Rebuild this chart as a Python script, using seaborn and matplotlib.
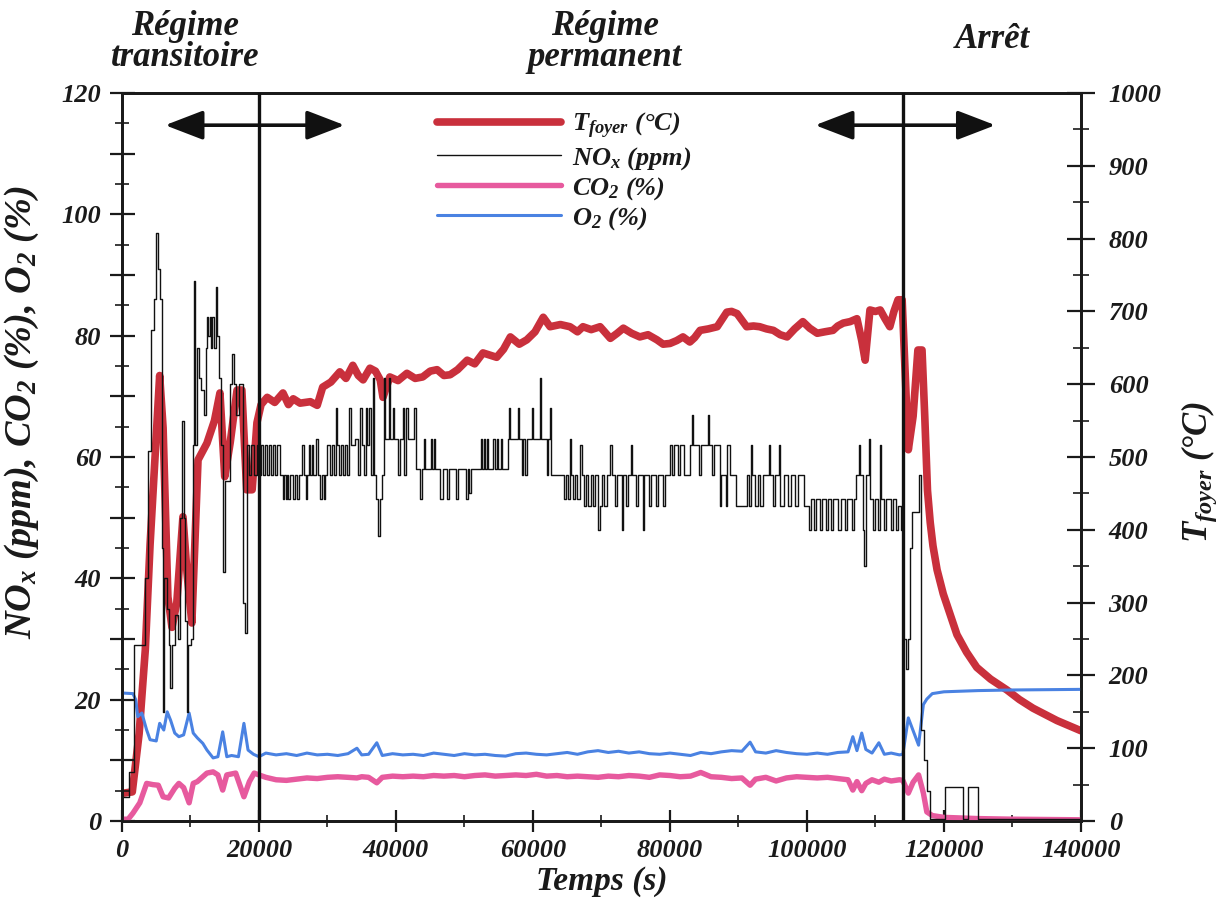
import matplotlib
matplotlib.use("Agg")
import matplotlib.pyplot as plt
import seaborn as sns
import pandas as pd
from matplotlib.ticker import MultipleLocator, FuncFormatter

# ---------------- data ----------------
# Furnace temperature (right axis, °C)
temp_t = [0, 1500, 2500, 3400, 4100, 5000, 5500, 6000, 6700, 7300, 8000, 8900, 9500, 10200,
          11100, 12400, 13500, 14300, 15000, 15800, 16800, 17500, 18200, 19000, 19700, 20300,
          21200, 22300, 23500, 24300, 25000, 26000, 27500, 28500, 29300, 30500, 31800, 32700,
          33700, 34500, 35200, 36200, 37000, 37700, 38100, 39100, 40300, 41600, 42800, 43900,
          45000, 46000, 47000, 47900, 49000, 50400, 51500, 52700, 53700, 54700, 55700, 56700,
          58000, 59100, 60300, 61500, 62500, 64000, 65400, 66500, 67300, 68500, 69800, 71300,
          72300, 73200, 74400, 75600, 76800, 78100, 79000, 80000, 81000, 81900, 82900, 83600,
          84400, 85600, 86900, 88300, 89000, 89800, 90500, 91200, 92200, 93100, 94100, 95100,
          96100, 97100, 98200, 99400, 100400, 101500, 102600, 103800, 104500, 105300, 106300,
          107300, 108000, 108500, 109200, 110000, 110700, 111400, 112100, 112700, 113300,
          113900, 114800, 115500, 116200, 116800, 117200, 117600, 118000, 118400, 119000,
          119900, 121000, 121900, 123300, 124800, 126800, 129200, 131000, 133000, 136500, 140000]
temp_v = [38, 40, 120, 235, 380, 530, 612, 540, 308, 266, 300, 418, 340, 272, 496, 519, 550,
          588, 473, 520, 592, 592, 455, 455, 547, 572, 582, 575, 588, 572, 580, 574, 576, 571,
          596, 603, 617, 608, 626, 612, 606, 622, 618, 606, 582, 610, 605, 615, 608, 610, 618,
          620, 612, 613, 620, 633, 628, 643, 640, 637, 648, 665, 655, 661, 672, 692, 679, 682,
          679, 672, 679, 675, 679, 663, 670, 677, 670, 665, 668, 661, 655, 656, 660, 665, 658,
          664, 674, 676, 679, 699, 700, 697, 688, 679, 680, 679, 676, 674, 668, 665, 676, 686,
          677, 670, 672, 674, 680, 684, 686, 690, 660, 633, 702, 700, 702, 690, 679, 700, 716,
          716, 510, 556, 647, 647, 556, 454, 410, 378, 345, 312, 281, 256, 232, 211, 195, 180,
          167, 155, 138, 124]

# NOx (ppm) - stepped signal, in three segments
nox_t_start = [0, 1000, 1700, 3300, 3800, 4300, 4700, 5000, 5200, 5500, 5800, 6000, 6200, 6500,
               6800, 7000, 7300, 7700, 8200, 8500, 8800, 9000, 9200, 9500, 9700, 10100, 10300,
               10500, 10700, 11000, 11300, 11600, 11900, 12200, 12400, 12600, 12800, 13000,
               13200, 13500, 13700, 13900, 14200, 14500, 14800, 15100, 15700, 16000, 16300,
               16700, 17100, 17600, 17900, 18300, 18600, 18900, 19200]
nox_v_start = [4, 8, 29, 40, 61, 81, 86, 97, 91, 86, 45, 18, 40, 35, 29, 22, 29, 34, 30, 50, 66,
               50, 33, 18, 29, 30, 62, 89, 62, 78, 73, 71, 67, 78, 83, 80, 83, 78, 83, 78, 88, 80,
               73, 62, 41, 56, 72, 77, 72, 67, 72, 36, 31, 62, 57, 62, 57]

nox_t_run = [19700, 20000, 20300, 20600, 20900, 21200, 21500, 21700, 22000, 22300, 22700, 23000,
             23500, 23700, 23900, 24100, 24300, 24600, 25000, 25300, 25600, 25800,
             26300, 26500, 26800, 27000, 27300, 27500, 27700, 27900, 28300, 28600, 28900, 29200,
             29500, 29700, 30000, 30300, 30600, 30900, 31200, 31400, 31700, 32000, 32300, 32600,
             32900, 33200, 33400, 34000, 34500, 34800, 35000, 35300, 35600, 35800, 36100, 36300,
             36600, 36800, 37100, 37400, 37600, 37900, 38200, 38400, 39000, 39200, 39500, 39700,
             40300, 40600, 41000, 41200, 41500, 41700, 42300, 42700, 42900, 43500, 43800, 44100,
             44300, 45100, 45300, 45500, 45700, 46500, 46800, 47500, 47800, 48700, 49000, 50200,
             50500, 50700, 51000, 52400, 52600, 52800, 53000, 53300, 53500, 54200, 54400, 54700,
             54900, 55300, 55500, 56300, 56500, 56700, 57800, 58000, 58400, 58600, 58900, 59100,
             59800, 60000, 61000, 61200, 62000, 62200, 62500, 62700, 64500, 64800, 65100, 65400,
             65600, 65900, 66200, 66500, 66900, 67100, 67400, 67700, 68000, 68400, 68700, 69100,
             69500, 69800, 70100, 70400, 70800, 71300, 71500, 72000, 72300, 73000, 73200, 73600,
             73900, 74300, 74500, 75000, 75300, 76000, 76200, 77000, 77300, 78000, 78300, 79000,
             79300, 80000, 80300, 80600, 81200, 81500, 82000, 82900, 83200, 83400, 84200, 84500,
             85500, 85700, 86200, 86500, 87300, 87500, 88200, 88400, 88800, 89700, 91200, 91500,
             91800, 92000, 92400, 92800, 93200, 93600, 94400, 94600, 95000, 95300, 95900, 96100,
             96600, 97200, 97600, 98300, 98700, 99500, 100300, 100600, 101000, 101300, 101900,
             102200, 102800, 103100, 103500, 103800, 104600, 104900, 105500, 105800, 106600,
             106900, 107200, 107600, 107800, 108200, 108400, 108600, 109000, 109200, 109600,
             109900, 110400, 110600, 110800, 111300, 111600, 112200, 112500, 113000, 113300,
             113700]
nox_v_run = [62, 57, 62, 57, 62, 57, 62, 57, 62, 57, 62, 57,
             53, 57, 53, 57, 53, 57, 53, 57, 53, 57,
             62, 57, 53, 57, 62, 57, 62, 57, 63, 57, 53, 57,
             53, 57, 62, 57, 62, 57, 68, 62, 57, 62, 57, 62,
             57, 68, 62, 63, 57, 68, 62, 57, 68, 62, 68, 57,
             73, 57, 53, 47, 53, 57, 73, 63, 73, 63, 68, 63,
             57, 63, 68, 57, 68, 63, 63, 68, 58, 53, 58, 63,
             58, 63, 58, 63, 58, 53, 58, 53, 58, 53, 58, 53,
             58, 54, 58, 63, 58, 63, 58, 63, 58, 63, 58, 63,
             58, 63, 58, 63, 68, 63, 68, 63, 57, 63, 57, 63,
             68, 63, 73, 63, 57, 63, 68, 57, 53, 57, 53, 63,
             57, 53, 57, 53, 62, 57, 52, 57, 52, 57, 52, 57,
             48, 52, 57, 52, 57, 62, 57, 52, 57, 48, 57, 52,
             57, 62, 57, 52, 57, 48, 57, 52, 57, 52, 57, 52,
             57, 62, 57, 62, 57, 62, 57, 62, 67, 62, 57, 62,
             67, 62, 57, 62, 52, 57, 52, 62, 57, 52, 57, 52,
             62, 57, 52, 57, 52, 57, 62, 57, 52, 57, 62, 52,
             57, 52, 57, 52, 57, 52, 48, 53, 48, 53, 48,
             53, 48, 53, 48, 53, 48, 53, 48, 53, 48,
             53, 57, 62, 57, 48, 42, 57, 63, 53, 48,
             53, 48, 62, 53, 48, 53, 48, 53, 48, 52,
             48]

nox_t_stop = [114000, 114400, 114700, 115000, 115300, 116400, 116700, 117100, 117500, 117900,
              120200, 122800, 123500, 125000, 140000]
nox_v_stop = [30, 25, 30, 45, 51, 57, 15, 10, 5, 0.3, 5.6, 0.3, 5.6, 0.3, 0.3]

# O2 (%)
o2_t = [0, 1600, 2000, 2300, 2900, 3600, 4100, 5000, 5500, 6100, 6600, 7100, 7700, 8300, 9000,
        9800, 10400, 11000, 11800, 12400, 13300, 14000, 14700, 15300, 16000, 17000, 17800,
        18400, 19200, 20000, 21000, 22500, 24000, 25500, 27000, 28500, 30000, 31500, 33000,
        34300, 35000, 36000, 37200, 38000, 39500, 41000, 42500, 44000, 45500, 47000, 48500,
        50000, 51500, 53000, 54500, 56000, 57500, 59000, 60500, 62000, 63500, 65000, 66500,
        68000, 69500, 71000, 72500, 74000, 75500, 77000, 78500, 80000, 81500, 83000, 84500,
        86000, 87500, 89000, 90500, 91700, 92500, 94000, 95500, 97000, 98500, 100000, 101500,
        103000, 104500, 106000, 106700, 107300, 108000, 108600, 109500, 110500, 111300, 112300,
        113500, 114000, 114800, 115500, 116300, 117000, 117500, 118300, 120000, 125000, 130000,
        140000]
o2_v = [21.1, 21.0, 20.0, 17.2, 17.8, 15.0, 13.4, 13.2, 16.1, 15.0, 18.0, 16.6, 14.5, 13.9,
        14.2, 17.8, 14.5, 13.7, 12.8, 11.7, 10.4, 10.6, 14.7, 10.6, 10.8, 10.6, 16.1, 11.7, 11.0,
        10.6, 11.2, 10.9, 11.1, 10.8, 11.2, 10.9, 11.0, 10.8, 11.1, 12.0, 10.9, 11.0, 12.9, 10.8,
        11.1, 10.9, 11.0, 10.8, 11.2, 11.0, 10.8, 11.1, 10.9, 11.0, 10.8, 10.7, 11.1, 11.2, 11.0,
        10.9, 11.1, 11.3, 11.0, 11.4, 11.6, 11.3, 11.5, 11.2, 11.4, 11.1, 11.0, 11.2, 11.0, 10.8,
        11.3, 11.1, 11.4, 11.6, 11.5, 13.0, 11.4, 11.2, 11.6, 11.3, 11.1, 11.0, 11.2, 11.0, 11.3,
        11.4, 13.9, 11.6, 14.5, 11.8, 11.2, 12.9, 11.0, 11.2, 10.9, 11.0, 17.0, 14.9, 12.5, 19.2,
        20.1, 21.0, 21.3, 21.5, 21.6, 21.7]

# CO2 (%)
co2_t = [0, 900, 1600, 2600, 3600, 4500, 5300, 6000, 6800, 7700, 8300, 9000, 9800, 10400, 11000,
         12400, 13300, 14000, 14700, 15300, 16600, 17800, 18600, 19300, 20000, 21000, 22500,
         24000, 25500, 27000, 28500, 30000, 31500, 33000, 34300, 35000, 36000, 37200, 38000,
         39500, 41000, 42500, 44000, 45500, 47000, 48500, 50000, 51500, 53000, 54500, 56000,
         57500, 59000, 60500, 62000, 63500, 65000, 66500, 68000, 69500, 71000, 72500, 74000,
         75500, 77000, 78500, 80000, 81500, 83000, 84500, 86000, 87500, 89000, 90500, 91700,
         92500, 94000, 95500, 97000, 98500, 100000, 101500, 103000, 104500, 106000, 106700,
         107300, 108000, 108600, 109500, 110500, 111300, 112300, 113500, 114000, 114800, 115500,
         116300, 117000, 117500, 118300, 120000, 125000, 130000, 140000]
co2_v = [0.3, 0.3, 1.3, 3.0, 6.2, 6.0, 5.9, 4.0, 3.8, 5.4, 6.2, 5.5, 3.0, 6.2, 6.5, 7.9, 8.1,
         7.6, 5.1, 7.6, 7.9, 4.0, 6.5, 7.9, 7.6, 7.2, 6.8, 6.7, 6.9, 7.1, 7.0, 7.2, 7.3, 7.2, 7.1,
         7.3, 7.2, 6.3, 7.2, 7.4, 7.3, 7.4, 7.3, 7.5, 7.4, 7.5, 7.3, 7.5, 7.6, 7.4, 7.5, 7.6, 7.5,
         7.7, 7.4, 7.5, 7.3, 7.4, 7.3, 7.2, 7.4, 7.3, 7.5, 7.4, 7.2, 7.6, 7.5, 7.3, 7.4, 8.0, 7.3,
         7.2, 7.0, 7.1, 5.9, 6.9, 7.2, 6.6, 7.1, 7.3, 7.2, 7.1, 7.2, 7.0, 6.8, 5.1, 6.5, 5.0, 6.2,
         6.8, 6.4, 6.9, 6.6, 6.8, 6.7, 4.6, 6.4, 7.6, 4.6, 1.5, 0.9, 0.6, 0.4, 0.3, 0.2]

phase_bounds = [20000, 114000]
phase_names = ["Régime\ntransitoire", "Régime\npermanent", "Arrêt"]
arrow_spans = [(6300, 32500), (101200, 127500)]

# ---------------- styling ----------------
sns.set_style("ticks")
plt.rcParams.update({
    "font.family": ["Liberation Serif", "DejaVu Serif"],
    "font.weight": "bold",
    "font.style": "italic",
    "axes.labelweight": "bold",
    "mathtext.fontset": "custom",
    "mathtext.it": "Liberation Serif:italic:bold",
    "mathtext.rm": "Liberation Serif:italic:bold",
    "mathtext.bf": "Liberation Serif:italic:bold",
    "text.color": "#1a1a1a",
    "axes.labelcolor": "#1a1a1a",
    "xtick.color": "#1a1a1a",
    "ytick.color": "#1a1a1a",
})

RED, BLACK, PINK, BLUE = "#c9303c", "#111111", "#e75a9e", "#4a82e2"

fig = plt.figure(figsize=(12.2, 9.05), dpi=100)
ax1 = fig.add_axes([0.1, 0.0928, 0.786, 0.8044])
ax2 = ax1.twinx()
ax1.set_zorder(ax2.get_zorder() + 1)
ax1.patch.set_visible(False)

df_temp = pd.DataFrame({"t": temp_t, "v": temp_v})
df_nox = pd.DataFrame({"t": nox_t_start + nox_t_run + nox_t_stop,
                       "v": nox_v_start + nox_v_run + nox_v_stop})
df_o2 = pd.DataFrame({"t": o2_t, "v": o2_v})
df_co2 = pd.DataFrame({"t": co2_t, "v": co2_v})

sns.lineplot(data=df_temp, x="t", y="v", ax=ax2, color=RED, lw=5.5, estimator=None,
             sort=False)
sns.lineplot(data=df_co2, x="t", y="v", ax=ax1, color=PINK, lw=3.9, estimator=None, sort=False)
sns.lineplot(data=df_o2, x="t", y="v", ax=ax1, color=BLUE, lw=2.2, estimator=None, sort=False)
sns.lineplot(data=df_nox, x="t", y="v", ax=ax1, color=BLACK, lw=1.0, estimator=None,
             sort=False, drawstyle="steps-post")

for b in phase_bounds:
    ax1.axvline(b, color=BLACK, lw=2.4, zorder=5)

ax1.set_xlim(0, 140000)
ax1.set_ylim(0, 120)
ax2.set_ylim(0, 1000)

# arrows
for a, b in arrow_spans:
    ax1.annotate("", xy=(a, 114.7), xytext=(b, 114.7),
                 arrowprops=dict(arrowstyle="<|-|>,head_length=1.3,head_width=0.5",
                                 color=BLACK, lw=2.6, mutation_scale=18, shrinkA=0, shrinkB=0))

# ticks
tick_font = dict(family="Liberation Serif", weight="bold", style="italic", size=19)
ax1.xaxis.set_major_locator(MultipleLocator(20000))
ax1.xaxis.set_minor_locator(MultipleLocator(10000))
ax1.xaxis.set_major_formatter(FuncFormatter(lambda v, p: f"{int(round(v))}"))
ax1.yaxis.set_major_locator(MultipleLocator(10))
ax1.yaxis.set_minor_locator(MultipleLocator(5))
ax1.yaxis.set_major_formatter(FuncFormatter(lambda v, p: f"{int(round(v))}" if int(round(v)) % 20 == 0 else ""))
ax2.yaxis.set_major_locator(MultipleLocator(100))
ax2.yaxis.set_minor_locator(MultipleLocator(50))
ax2.yaxis.set_major_formatter(FuncFormatter(lambda v, p: f"{int(round(v))}"))

ax1.tick_params(axis="y", which="major", direction="inout", length=18, width=1.6, pad=6,
                left=True, right=False, labelsize=19)
ax1.tick_params(axis="y", which="minor", direction="inout", length=10, width=1.2,
                left=True, right=False)
ax1.tick_params(axis="x", which="major", direction="inout", length=16, width=1.6, pad=5,
                labelsize=19, top=False)
ax1.tick_params(axis="x", which="minor", direction="inout", length=9, width=1.2, top=False)
ax2.tick_params(axis="y", which="major", direction="inout", length=20, width=1.6, pad=10,
                labelsize=19)
ax2.tick_params(axis="y", which="minor", direction="inout", length=11, width=1.2)
for ax in (ax1, ax2):
    for lab in ax.get_xticklabels() + ax.get_yticklabels():
        lab.set_fontproperties(tick_font)
    for s in ax.spines.values():
        s.set_linewidth(2.0)
        s.set_color("#1a1a1a")
        s.set_visible(True)

ax1.set_xlabel("Temps (s)", fontsize=24, fontweight="bold", labelpad=3)
ax1.set_ylabel(r"$NO_x$ (ppm), $CO_2$ (%), $O_2$ (%)", fontsize=27.5, fontweight="bold")
ax1.yaxis.set_label_coords(-0.084, 0.562)
ax2.set_ylabel(r"$T_{foyer}$ (°C)", fontsize=25, fontweight="bold", rotation=90)
ax2.yaxis.set_label_coords(1.103, 0.48)

# legend
handles = [plt.Line2D([], [], color=RED, lw=5.5),
           plt.Line2D([], [], color=BLACK, lw=1.0),
           plt.Line2D([], [], color=PINK, lw=3.9),
           plt.Line2D([], [], color=BLUE, lw=2.2)]
labels = [r"$T_{foyer}$ (°C)", r"$NO_x$ (ppm)", r"$CO_2$ (%)", r"$O_2$ (%)"]
ax1.legend(handles, labels, loc="upper left", bbox_to_anchor=(0.328, 0.975), frameon=False,
           prop=dict(family="Liberation Serif", weight="bold", style="italic", size=19),
           handlelength=4.7, handletextpad=0.45, labelspacing=0.13, borderpad=0, borderaxespad=0)

# phase titles
ph_x = [185, 605, 992]
ph_y = [42, 42, 40]
for name, px, py in zip(phase_names, ph_x, ph_y):
    fig.text(px / 1220, 1 - py / 905, name, ha="center", va="center", fontsize=25,
             linespacing=0.95, family="Liberation Serif", weight="bold", style="italic")

fig.savefig("out.png", dpi=100)
